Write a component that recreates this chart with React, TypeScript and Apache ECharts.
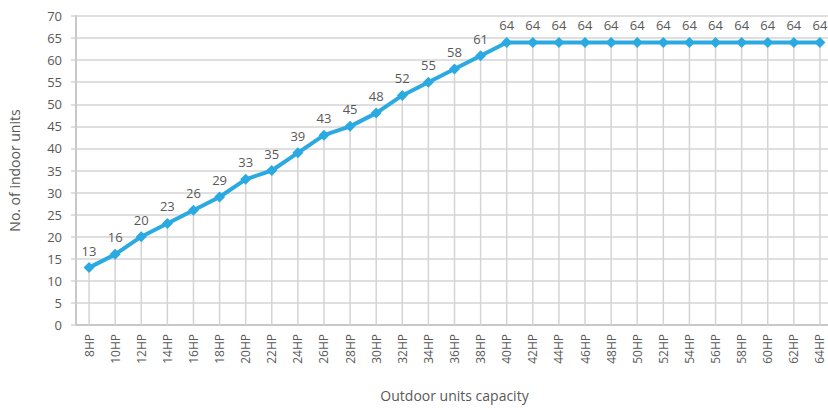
import React, { useEffect, useRef } from "react";
import * as echarts from "echarts";

// Outdoor unit capacity (HP) and the max number of connectable indoor units
const capacities = [
  "8HP", "10HP", "12HP", "14HP", "16HP", "18HP", "20HP", "22HP", "24HP", "26HP",
  "28HP", "30HP", "32HP", "34HP", "36HP", "38HP", "40HP", "42HP", "44HP", "46HP",
  "48HP", "50HP", "52HP", "54HP", "56HP", "58HP", "60HP", "62HP", "64HP",
];
const indoorUnits = [
  13, 16, 20, 23, 26, 29, 33, 35, 39, 43, 45, 48, 52, 55, 58, 61, 64, 64, 64, 64,
  64, 64, 64, 64, 64, 64, 64, 64, 64,
];
const yMin = 0;
const yMax = 70;
const yStep = 5;

const FONT = "'Open Sans', 'Noto Sans', sans-serif";
const TEXT = "#595959";
const GRID = "#d4d4d4";
const BLUE = "#2BAAE1";

export default function App() {
  const ref = useRef<HTMLDivElement>(null);

  useEffect(() => {
    if (!ref.current) return;
    const chart = echarts.init(ref.current, null, { renderer: "svg" });
    chart.setOption({
      animation: false,
      backgroundColor: "#ffffff",
      textStyle: { fontFamily: FONT },
      grid: {
        left: 76,
        top: 16,
        width: 757,
        height: 309,
        containLabel: false,
        outerBoundsMode: "none",
      },
      xAxis: {
        type: "category",
        data: capacities,
        boundaryGap: true,
        name: "Outdoor units capacity",
        nameLocation: "middle",
        nameGap: 63,
        nameTextStyle: { color: TEXT, fontSize: 14, fontFamily: FONT },
        axisLine: { lineStyle: { color: "#c8c8c8", width: 2 } },
        axisTick: { show: false },
        splitLine: { show: false },
        axisLabel: {
          rotate: 90,
          color: TEXT,
          fontSize: 12,
          lineHeight: 12,
          fontFamily: FONT,
          margin: 9,
          interval: 0,
        },
      },
      yAxis: {
        type: "value",
        min: yMin,
        max: yMax,
        interval: yStep,
        name: "No. of indoor units",
        nameLocation: "middle",
        nameGap: 55,
        nameTextStyle: { color: TEXT, fontSize: 14, fontFamily: FONT },
        axisLine: { show: true, lineStyle: { color: "#c8c8c8", width: 2 } },
        axisTick: { show: true, length: 5, lineStyle: { color: GRID, width: 1.5 } },
        splitLine: { show: true, lineStyle: { color: GRID, width: 1.5 } },
        axisLabel: { color: TEXT, fontSize: 13, fontFamily: FONT, margin: 14 },
      },
      series: [
        {
          // drop lines from each point down to the category axis
          type: "bar",
          data: indoorUnits,
          barWidth: 1.5,
          itemStyle: { color: GRID },
          silent: true,
          z: 1,
        },
        {
          type: "line",
          data: indoorUnits,
          symbol: "diamond",
          symbolSize: 11,
          lineStyle: { color: BLUE, width: 4 },
          itemStyle: { color: BLUE },
          label: {
            show: true,
            position: "top",
            distance: 5,
            color: TEXT,
            fontSize: 13,
            fontFamily: FONT,
          },
          z: 3,
        },
      ],
    });
    return () => chart.dispose();
  }, []);

  return (
    <div
      ref={ref}
      style={{
        position: "fixed",
        left: 0,
        top: 0,
        width: 828,
        height: 408,
        overflow: "hidden",
      }}
    />
  );
}
